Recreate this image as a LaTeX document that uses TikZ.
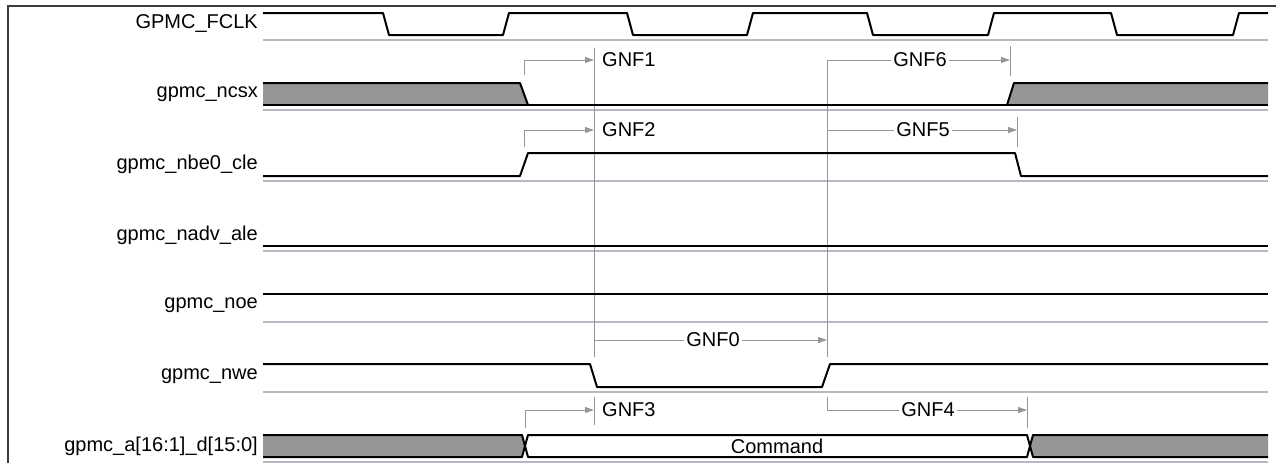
\documentclass[tikz,border=0pt]{standalone}
\usepackage{fontspec}
\setmainfont{Liberation Sans}
\usetikzlibrary{arrows.meta}

\definecolor{busgray}{RGB}{150,150,152}
\definecolor{rowgray}{RGB}{184,184,194}
\definecolor{dimgray}{RGB}{150,150,150}
\definecolor{framegray}{RGB}{60,60,60}

\tikzset{
  sig/.style={line width=2pt, black, line join=round},
  rowline/.style={line width=1.3pt, rowgray},
  dimline/.style={line width=1pt, dimgray},
  dimarrow/.style={line width=1pt, dimgray, -{Triangle[length=9pt,width=6pt]}},
  signame/.style={anchor=east, inner sep=0pt, font=\fontsize{20}{24}\selectfont},
  gnf/.style={inner sep=2pt, fill=white, font=\fontsize{20}{24}\selectfont},
}

\begin{document}
\begin{tikzpicture}[x=1pt, y=-1pt]
\useasboundingbox (0,0) rectangle (1276,463);

% frame
\draw[framegray, line width=1.2pt] (8,463) -- (8,6) -- (1276,6);

% signal names
\node[signame] (fclk) at (258,24) {GPMC\_FCLK};
\node[signame] (ncsx) at (258,94) {gpmc\_ncsx};
\node[signame] (nbe) at (258,164) {gpmc\_nbe0\_cle};
\node[signame] (nadv) at (258,235) {gpmc\_nadv\_ale};
\node[signame] (noe) at (258,305) {gpmc\_noe};
\node[signame] (nwe) at (258,376) {gpmc\_nwe};
\node[signame] (bus) at (258,446) {gpmc\_a[16:1]\_d[15:0]};

% row base lines
\draw[rowline] (263,40) -- (1268,40);
\draw[rowline] (263,110) -- (1268,110);
\draw[rowline] (263,181) -- (1268,181);
\draw[rowline] (263,251) -- (1268,251);
\draw[rowline] (263,322) -- (1268,322);
\draw[rowline] (263,392) -- (1268,392);
\draw[rowline] (263,462) -- (1268,462);

% reference points
\coordinate (r1) at (594,48);
\coordinate (r0) at (594,357);
\coordinate (r3a) at (594,397);
\coordinate (r3b) at (594,425);
\coordinate (q1) at (827,60);
\coordinate (q0) at (827,357);

% timing reference lines
\draw[dimline] (r1) -- (r0);
\draw[dimline] (r3a) -- (r3b);
\draw[dimline] (q1) -- (q0);
\draw[dimline] (1010,46) -- (1010,76);
\draw[dimline] (1017,117) -- (1017,147);
\draw[dimline] (1027,397) -- (1027,428);

% GPMC_FCLK
\draw[sig] (263,13) -- (383,13) -- (389,35) -- (503,35) -- (509,13) -- (627,13)
  -- (633,35) -- (747,35) -- (753,13) -- (867,13) -- (873,35) -- (988,35)
  -- (994,13) -- (1111,13) -- (1117,35) -- (1233,35) -- (1239,13) -- (1268,13);

% gpmc_ncsx
\fill[busgray] (263,83) -- (520,83) -- (528,105) -- (263,105) -- cycle;
\fill[busgray] (1007,105) -- (1014,83) -- (1268,83) -- (1268,105) -- cycle;
\draw[sig] (263,83) -- (520,83) -- (528,105);
\draw[sig] (1007,105) -- (1014,83) -- (1268,83);
\draw[sig] (263,105) -- (1268,105);

% gpmc_nbe0_cle
\draw[sig] (263,176) -- (520,176) -- (528,153) -- (1015,153) -- (1021,176) -- (1268,176);

% gpmc_nadv_ale
\draw[sig] (263,246) -- (1268,246);

% gpmc_noe
\draw[sig] (263,294) -- (1268,294);

% gpmc_nwe
\draw[sig] (263,364) -- (590,364) -- (597,387) -- (822,387) -- (830,364) -- (1268,364);

% address / data bus
\fill[busgray] (263,435) -- (522,435) -- (525,446) -- (522,457) -- (263,457) -- cycle;
\fill[busgray] (1033,435) -- (1268,435) -- (1268,457) -- (1033,457) -- (1030,446) -- cycle;
\draw[sig] (263,435) -- (522,435) -- (528,457) -- (1027,457) -- (1033,435) -- (1268,435);
\draw[sig] (263,457) -- (522,457) -- (528,435) -- (1027,435) -- (1033,457) -- (1268,457);
\node[inner sep=0pt, font=\fontsize{20}{24}\selectfont] (cmd) at (777,446) {Command};

% GNF1, GNF2, GNF3
\draw[dimarrow] (524,75) |- (594,60);
\node[anchor=west, inner sep=0pt, font=\fontsize{20}{24}\selectfont] (gnf1) at (602,60) {GNF1};
\draw[dimarrow] (524,147) |- (594,130);
\node[anchor=west, inner sep=0pt, font=\fontsize{20}{24}\selectfont] (gnf2) at (602,130) {GNF2};
\draw[dimarrow] (525,428) |- (594,410);
\node[anchor=west, inner sep=0pt, font=\fontsize{20}{24}\selectfont] (gnf3) at (602,410) {GNF3};

% GNF6, GNF5, GNF0, GNF4
\draw[dimarrow] (q1) -- (1010,60);
\node[gnf] (gnf6) at (920,60) {GNF6};
\draw[dimarrow] (827,130) -- (1017,130);
\node[gnf] (gnf5) at (923,130) {GNF5};
\draw[dimarrow] (594,340) -- (827,340);
\node[gnf] (gnf0) at (713,340) {GNF0};
\draw[dimarrow] (827,397) |- (1027,410);
\node[gnf] (gnf4) at (928,410) {GNF4};
\end{tikzpicture}
\end{document}
